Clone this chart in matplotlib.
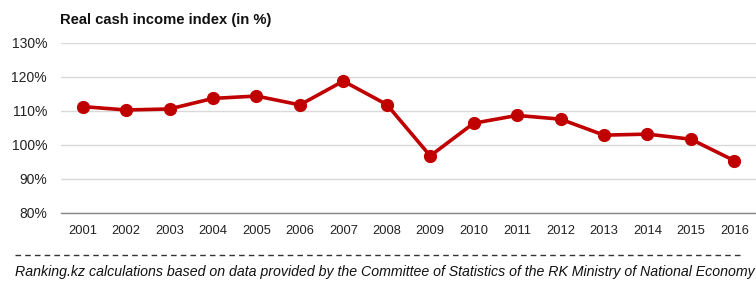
import matplotlib.pyplot as plt

years = [str(y) for y in range(2001, 2017)]
index_pct = [111.3, 110.3, 110.6, 113.7, 114.4, 111.8, 118.8, 111.9,
             96.8, 106.4, 108.7, 107.6, 102.9, 103.2, 101.7, 95.4]
y_ticks = [80, 90, 100, 110, 120, 130]

plt.rcParams['font.family'] = ['Liberation Sans', 'DejaVu Sans']

fig = plt.figure(figsize=(7.56, 2.82), dpi=100)
ax = fig.add_axes([61 / 756, 1 - 213 / 282, 695 / 756, 170 / 282])

x = range(len(years))
ax.plot(x, index_pct, color='#C00000', lw=2.6, marker='o', ms=8.5,
        solid_joinstyle='round', zorder=3)

ax.set_xlim(-0.5, len(years) - 0.5)
ax.set_ylim(80, 130)
ax.set_yticks(y_ticks)
ax.set_yticklabels(['%d%%' % v for v in y_ticks], fontsize=10, color='#222222')
ax.set_xticks(list(x))
ax.set_xticklabels(years, fontsize=9.3, color='#222222')
ax.tick_params(axis='both', length=0)
ax.tick_params(axis='y', pad=10)
ax.tick_params(axis='x', pad=9)
ax.grid(axis='y', color='#D9D9D9', lw=1)
ax.set_axisbelow(True)
for side in ['top', 'right', 'left']:
    ax.spines[side].set_visible(False)
ax.spines['bottom'].set_color('#888888')
ax.spines['bottom'].set_linewidth(1)

fig.text(60 / 756, 1 - 20 / 282, 'Real cash income index (in %)', fontsize=10.6,
         fontweight='bold', va='center', ha='left', color='#111111')

fig.add_artist(plt.Line2D([15 / 756, 742 / 756], [1 - 255 / 282] * 2,
                          color='#333333', lw=1, ls=(0, (4, 3))))
fig.text(15 / 756, 1 - 272 / 282,
         'Ranking.kz calculations based on data provided by the Committee of '
         'Statistics of the RK Ministry of National Economy',
         fontsize=10.2, style='italic', va='center', ha='left', color='#111111')

fig.savefig('out.png', dpi=100)
